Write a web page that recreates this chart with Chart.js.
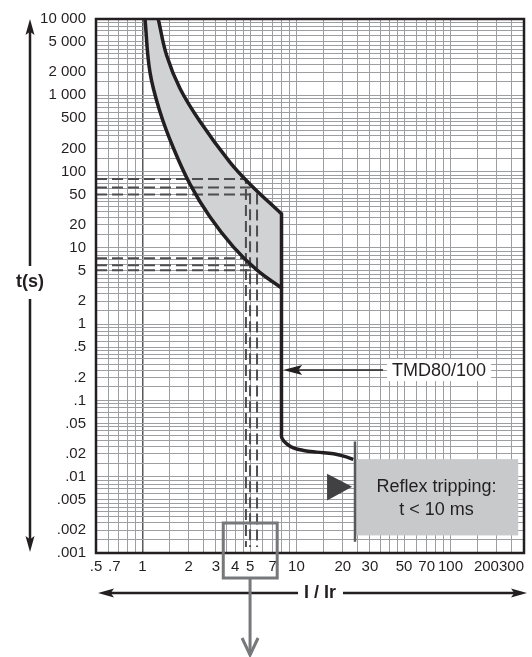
<!DOCTYPE html>
<html lang="en">
<head>
<meta charset="utf-8">
<title>TMD80/100 tripping curve</title>
<script src="https://cdn.jsdelivr.net/npm/chart.js@4.4.1/dist/chart.umd.min.js"></script>
<style>
  html, body { margin: 0; padding: 0; background: #fff; }
  canvas { display: block; }
</style>
</head>
<body>
<canvas id="tripChart" width="532" height="657"></canvas>
<script>
// axis tick labels
const xTicks = [0.5, 0.7, 1, 2, 3, 4, 5, 7, 10, 20, 30, 50, 70, 100, 200, 300];
const xLabels = [".5", ".7", "1", "2", "3", "4", "5", "7", "10", "20", "30", "50", "70", "100", "200", "300"];
const yTicks = [10000, 5000, 2000, 1000, 500, 200, 100, 50, 20, 10, 5, 2, 1, 0.5, 0.2, 0.1, 0.05, 0.02, 0.01, 0.005, 0.002, 0.001];
const yLabels = ["10 000", "5 000", "2 000", "1 000", "500", "200", "100", "50", "20", "10", "5", "2", "1", ".5", ".2", ".1", ".05", ".02", ".01", ".005", ".002", ".001"];

// grid divisions inside one decade
const gridSteps = [1, 1.5, 2, 2.5, 3, 3.5, 4, 4.5, 5, 6, 7, 8, 9];

// thermal band, slow edge (I/Ir, t in s)
const upperI = [1.268, 1.438, 1.755, 2.366, 3.706, 4.997, 8];
const upperT = [10000, 3314, 1227, 453, 132, 68.4, 27.9];
// thermal band, fast edge
const lowerI = [1.04, 1.12, 1.301, 1.587, 2.037, 2.748, 3.893, 5.524, 8];
const lowerT = [10000, 2013, 609, 205, 68.4, 25.3, 10.3, 5.14, 2.98];
// magnetic part, down to reflex tripping
const instI = [8, 8.05, 8.65, 9.55, 11.1, 13.55, 17.4, 20.2, 23.4];
const instT = [0.0393, 0.0321, 0.0269, 0.0239, 0.0221, 0.021, 0.02, 0.0186, 0.0169];

// dashed reading lines
const dashI = [4.7, 5.0, 5.55];
const dashTopT = [80, 62, 50];
const dashLowT = [7.3, 5.9, 5.1];
const dashEndT = 0.0012;

// reflex tripping marker
const reflexLineI = [24, 24];
const reflexLineT = [0.029, 0.0014];
const reflexBoxI = [24, 275];
const reflexBoxT = [0.017, 0.0017];
const pointerI = [15.8, 23, 15.8];
const pointerT = [0.0109, 0.0074, 0.00486];

// TMD label arrow, focus box under the axis
const tmdArrowI = [36.5, 8.2];
const tmdArrowT = 0.25;
const focusI = [3.35, 5, 7.5];

// crowded x labels are nudged left with trailing spaces
const xLabelPad = { 0.7: 2, 200: 5, 300: 6 };

const ink = "#231f20";
const family = '"Liberation Sans", Arial, sans-serif';

function gridValues(min, max) {
  const out = [];
  for (let d = 0.0001; d <= max; d *= 10) {
    gridSteps.forEach((s) => {
      const v = +(d * s).toPrecision(6);
      if (v >= min && v <= max) out.push(v);
    });
  }
  return out;
}

function labelFor(value, values, labels) {
  const i = values.findIndex((v) => Math.abs(v - value) / v < 1e-6);
  return i >= 0 ? labels[i] : "";
}

const pts = (xs, ys) => xs.map((x, i) => ({ x: x, y: ys[i] }));

const upperPts = pts(upperI, upperT);
const lowerPts = pts(lowerI, lowerT);
const cornerTop = upperPts[upperPts.length - 1];
const cornerLow = lowerPts[lowerPts.length - 1];

// corner points are repeated so the spline keeps them sharp
const bandPts = [...upperPts, cornerTop, cornerLow, ...lowerPts.slice().reverse()];
const upperLine = [...upperPts, cornerTop, cornerLow];
const lowerLine = [...lowerPts, cornerLow, ...pts(instI, instT)];

const datasets = [];

function curve(data) {
  return {
    data: data,
    showLine: true,
    borderColor: ink,
    borderWidth: 3.5,
    tension: 0.4,
    fill: false,
    pointRadius: 0,
    clip: 0,
  };
}
datasets.push(curve(upperLine));
datasets.push(curve(lowerLine));

// dashed reading lines
dashI.forEach((xi, i) => {
  const dash = {
    showLine: true,
    borderColor: "#4d4d4f",
    borderWidth: 2,
    borderDash: [11, 5],
    tension: 0,
    pointRadius: 0,
    fill: false,
  };
  datasets.push(Object.assign({}, dash, {
    data: pts([0.5, xi, xi], [dashTopT[i], dashTopT[i], dashEndT]),
  }));
  datasets.push(Object.assign({}, dash, {
    data: pts([0.5, xi], [dashLowT[i], dashLowT[i]]),
  }));
});

// reflex marker line and pointer
datasets.push({
  data: pts(reflexLineI, reflexLineT),
  showLine: true,
  borderColor: "#58595b",
  borderWidth: 2.5,
  pointRadius: 0,
  fill: false,
});
datasets.push({
  data: pts(pointerI, pointerT),
  showLine: true,
  borderWidth: 0,
  borderColor: "rgba(0,0,0,0)",
  backgroundColor: "#414042",
  pointRadius: 0,
  fill: "shape",
});

// grey thermal band
datasets.push({
  data: bandPts,
  showLine: true,
  borderWidth: 0,
  borderColor: "rgba(0,0,0,0)",
  backgroundColor: "#d1d2d4",
  tension: 0.4,
  pointRadius: 0,
  fill: "shape",
});

function arrowHead(ctx, tx, ty, dx, dy, len, half) {
  ctx.beginPath();
  ctx.moveTo(tx, ty);
  ctx.lineTo(tx - dx * len - dy * half, ty - dy * len + dx * half);
  ctx.lineTo(tx - dx * len * 0.8, ty - dy * len * 0.8);
  ctx.lineTo(tx - dx * len + dy * half, ty - dy * len - dx * half);
  ctx.closePath();
  ctx.fill();
}

const overlay = {
  id: "overlay",
  beforeDatasetsDraw(chart) {
    const { ctx, scales: { x, y } } = chart;
    const left = x.getPixelForValue(reflexBoxI[0]);
    const right = x.getPixelForValue(reflexBoxI[1]);
    const top = y.getPixelForValue(reflexBoxT[0]);
    const bottom = y.getPixelForValue(reflexBoxT[1]);
    ctx.save();
    ctx.fillStyle = "#c8c9cb";
    ctx.fillRect(left, top, right - left, bottom - top);
    ctx.restore();
  },
  afterDatasetsDraw(chart) {
    const { ctx, chartArea: area, scales: { x, y } } = chart;
    ctx.save();

    // frame
    ctx.strokeStyle = ink;
    ctx.lineWidth = 2.5;
    ctx.strokeRect(area.left, area.top, area.right - area.left, area.bottom - area.top);

    // reflex text
    const bx = (x.getPixelForValue(reflexBoxI[0]) + x.getPixelForValue(reflexBoxI[1])) / 2;
    const by = (y.getPixelForValue(reflexBoxT[0]) + y.getPixelForValue(reflexBoxT[1])) / 2;
    ctx.fillStyle = ink;
    ctx.font = "18px " + family;
    ctx.textAlign = "center";
    ctx.textBaseline = "middle";
    ctx.fillText("Reflex tripping:", bx, by - 10);
    ctx.fillText("t < 10 ms", bx, by + 13);

    // TMD80/100 label and arrow
    const ay = y.getPixelForValue(tmdArrowT);
    const tail = x.getPixelForValue(tmdArrowI[0]);
    const tip = x.getPixelForValue(tmdArrowI[1]);
    const tw = ctx.measureText("TMD80/100").width;
    ctx.fillStyle = "#fff";
    ctx.fillRect(tail + 4, ay - 11, tw + 10, 22);
    ctx.fillStyle = ink;
    ctx.textAlign = "left";
    ctx.fillText("TMD80/100", tail + 9, ay + 1);
    ctx.strokeStyle = ink;
    ctx.lineWidth = 1.5;
    ctx.beginPath();
    ctx.moveTo(tail, ay);
    ctx.lineTo(tip + 12, ay);
    ctx.stroke();
    arrowHead(ctx, tip, ay, -1, 0, 19, 5);

    // t(s) axis arrow
    const ax = 30;
    ctx.lineWidth = 2.5;
    ctx.beginPath();
    ctx.moveTo(ax, area.top + 10);
    ctx.lineTo(ax, 266);
    ctx.moveTo(ax, 299);
    ctx.lineTo(ax, area.bottom - 10);
    ctx.stroke();
    arrowHead(ctx, ax, area.top, 0, -1, 16, 4.5);
    arrowHead(ctx, ax, area.bottom - 1, 0, 1, 16, 4.5);
    ctx.font = "bold 18px " + family;
    ctx.textAlign = "center";
    ctx.fillText("t(s)", ax, 282);

    // I / Ir axis arrow
    const ly = 593;
    ctx.beginPath();
    ctx.moveTo(area.left + 10, ly);
    ctx.lineTo(298, ly);
    ctx.moveTo(343, ly);
    ctx.lineTo(area.right - 6, ly);
    ctx.stroke();
    arrowHead(ctx, area.left + 2, ly, -1, 0, 16, 4.5);
    arrowHead(ctx, area.right + 3, ly, 1, 0, 16, 4.5);
    ctx.fillText("I / Ir", 320, ly);

    // focus box under the axis
    const fx0 = x.getPixelForValue(focusI[0]);
    const fxc = x.getPixelForValue(focusI[1]);
    const fx1 = x.getPixelForValue(focusI[2]);
    ctx.strokeStyle = "#77787b";
    ctx.lineWidth = 3;
    ctx.strokeRect(fx0, area.bottom - 30, fx1 - fx0, 55);
    ctx.beginPath();
    ctx.moveTo(fxc, area.bottom + 25);
    ctx.lineTo(fxc, 655);
    ctx.stroke();
    ctx.beginPath();
    ctx.moveTo(fxc - 8, 638);
    ctx.lineTo(fxc, 655);
    ctx.lineTo(fxc + 8, 638);
    ctx.stroke();

    ctx.restore();
  },
};

const xGrid = gridValues(0.5, 300);
const yGrid = gridValues(0.001, 10000);

new Chart(document.getElementById("tripChart"), {
  type: "scatter",
  data: { datasets: datasets },
  options: {
    responsive: false,
    animation: false,
    events: [],
    layout: { padding: { left: 0, right: 8, top: 13, bottom: 0 } },
    plugins: { legend: { display: false }, tooltip: { enabled: false } },
    scales: {
      x: {
        type: "logarithmic",
        position: "bottom",
        min: 0.5,
        max: 300,
        afterBuildTicks: (axis) => {
          axis.ticks = xGrid.map((v) => ({ value: v }));
        },
        afterFit: (axis) => {
          axis.height = 104;
          axis.paddingLeft = 0;
          axis.paddingRight = 0;
        },
        border: { display: false },
        grid: {
          drawTicks: false,
          lineWidth: (c) => (c.tick && c.tick.value === 1 ? 1.5 : 1),
          color: (c) => (c.tick && c.tick.value === 1 ? "#58595b" : "#9c9ea1"),
        },
        ticks: {
          autoSkip: false,
          maxRotation: 0,
          padding: 5,
          color: ink,
          font: { family: family, size: 15 },
          callback: (v) => {
            const text = labelFor(v, xTicks, xLabels);
            const pad = xLabelPad[v] || 0;
            return text + " ".repeat(pad);
          },
        },
      },
      y: {
        type: "logarithmic",
        min: 0.001,
        max: 10000,
        afterBuildTicks: (axis) => {
          axis.ticks = yGrid.map((v) => ({ value: v }));
        },
        afterFit: (axis) => {
          axis.width = 96;
        },
        border: { display: false },
        grid: { drawTicks: false, lineWidth: 1, color: "#9c9ea1" },
        ticks: {
          autoSkip: false,
          padding: 10,
          color: ink,
          font: { family: family, size: 15 },
          callback: (v) => labelFor(v, yTicks, yLabels),
        },
      },
    },
  },
  plugins: [overlay],
});
</script>
</body>
</html>
